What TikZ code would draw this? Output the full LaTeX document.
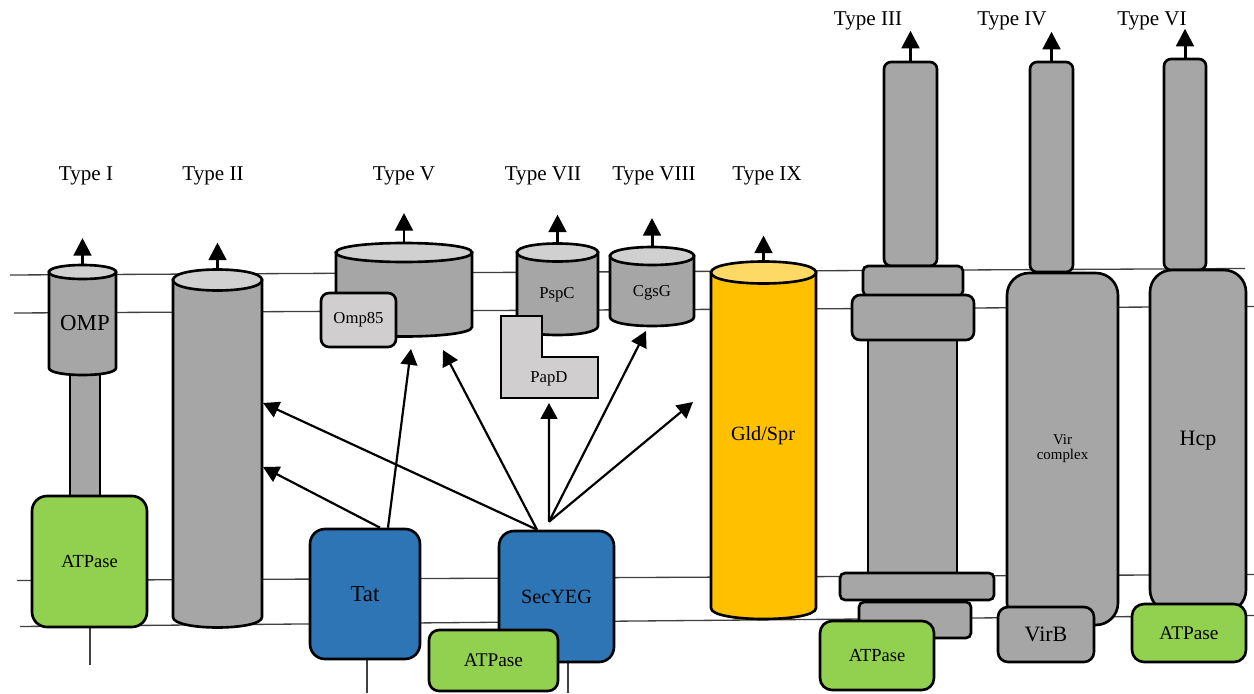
\documentclass[tikz,border=0pt]{standalone}
\usepackage{fontspec}
\setmainfont{Liberation Serif}
\usetikzlibrary{arrows.meta,positioning}

\definecolor{protgray}{HTML}{A6A6A6}
\definecolor{capgray}{HTML}{D0D0D0}
\definecolor{ompgray}{HTML}{D0CECE}
\definecolor{atpgreen}{HTML}{92D050}
\definecolor{secblue}{HTML}{2E75B6}
\definecolor{gldyellow}{HTML}{FFC000}
\definecolor{gldtop}{HTML}{FFD966}

\newcommand{\fsz}[1]{\fontsize{#1}{#1}\selectfont}
\newcommand{\tube}[8]{%
  \filldraw[fill=#6,line width=1.5pt] (#1,#3) -- (#1,#4) .. controls (#1,{#4+1.333*#5}) and (#2,{#4+1.333*#5}) .. (#2,#4) -- (#2,#3) -- cycle;
  \filldraw[fill=#7,line width=1.5pt] (#1,#3) .. controls (#1,{#3-1.333*#5}) and (#2,{#3-1.333*#5}) .. (#2,#3) .. controls (#2,{#3+1.333*#5}) and (#1,{#3+1.333*#5}) .. (#1,#3) -- cycle;
  \coordinate (#8) at ({(#1+#2)/2},{#3-#5});
}

\begin{document}
\begin{tikzpicture}[x=0.02cm,y=-0.02cm,
  box/.style={draw,line width=1.5pt,rounded corners=0.3cm,align=center,inner sep=0pt},
  memline/.style={line width=0.75pt,black!75},
  up/.style={line width=1.7pt,-{Triangle[width=10pt,length=10pt]}},
  feed/.style={line width=1.25pt,-{Triangle[width=9.5pt,length=9pt]}},
  lbl/.style={font=\fsz{12}}]
\useasboundingbox (0,0) rectangle (1254,693);

\draw[memline] (10,275) -- (1245,268.5);
\draw[memline] (14,313) -- (1254,306.5);
\draw[memline] (17,580.5) -- (1254,574.5);
\draw[memline] (20,626.5) -- (1254,615.5);

\draw[memline] (90,627) -- (90,665);
\draw[memline] (367,657) -- (367,693);
\draw[memline] (568,657) -- (568,693);

\node[lbl] (lab1) at (86,176) {Type I};
\node[lbl] (lab2) at (213,176) {Type II};
\node[lbl] (lab5) at (404,176) {Type V};
\node[lbl] (lab7) at (543,176) {Type VII};
\node[lbl] (lab8) at (654,176) {Type VIII};
\node[lbl] (lab9) at (767,176) {Type IX};
\node[lbl] (lab3) at (868,21) {Type III};
\node[lbl] (lab4) at (1012,21) {Type IV};
\node[lbl] (lab6) at (1152,21) {Type VI};

\filldraw[fill=protgray,line width=1.5pt] (70,370) rectangle (100,497);
\tube{49}{116}{272}{368}{7}{protgray}{capgray}{omp}
\node[font=\fsz{13}] (omptxt) at (85,323) {OMP};
\node[box,fill=atpgreen,minimum width=2.3cm,minimum height=2.62cm,font=\fsz{10.5}] (atp1) at (89.5,561.5) {ATPase};

\tube{173}{262}{280}{617}{10.5}{protgray}{capgray}{gsp}
\coordinate (gspa) at (263,403);
\coordinate (gspb) at (263,467);

\tube{336}{472}{252.5}{327}{9.5}{protgray}{capgray}{usher}
\node[box,fill=ompgray,rounded corners=0.16cm,minimum width=1.5cm,minimum height=1.08cm,font=\fsz{9.5}] (omp85) at (358.5,320) {Omp85};
\coordinate (usha) at (411,349);
\coordinate (ushb) at (443,350);

\tube{517}{598}{252.5}{326}{9}{protgray}{capgray}{pspc}
\node[font=\fsz{9.5}] (pspctxt) at (557,295) {PspC};
\filldraw[fill=ompgray,line width=1.5pt] (501,316) -- (542,316) -- (542,357) -- (598,357) -- (598,398) -- (501,398) -- cycle;
\node[font=\fsz{9.5}] (papd) at (549,379) {PapD};
\coordinate (papdb) at (549,403);

\tube{610}{694}{256}{317}{9}{protgray}{capgray}{cgsg}
\node[font=\fsz{9.5}] (cgsgtxt) at (652,293) {CgsG};
\coordinate (cgsgb) at (646,331);
\coordinate (gldl) at (693,402);

\tube{711}{816}{272.5}{608}{11}{gldyellow}{gldtop}{gld}
\node[font=\fsz{11.5}] (gldtxt) at (763,436) {Gld/Spr};

\node[box,fill=protgray,rounded corners=0.14cm,minimum width=1.06cm,minimum height=4.08cm] (rod3) at (910.5,164) {};
\node[box,fill=protgray,rounded corners=0,minimum width=1.78cm,minimum height=4.66cm] (shaft3) at (912.5,456.5) {};
\node[box,fill=protgray,rounded corners=0.1cm,minimum width=2.0cm,minimum height=0.6cm] (ring1) at (913,281) {};
\node[box,fill=protgray,rounded corners=0.16cm,minimum width=2.44cm,minimum height=0.9cm] (ring2) at (913,317.5) {};
\node[box,fill=protgray,rounded corners=0.1cm,minimum width=2.24cm,minimum height=0.72cm] (ring4) at (915,620) {};
\node[box,fill=protgray,rounded corners=0.1cm,minimum width=3.08cm,minimum height=0.54cm] (ring3) at (917,586.5) {};
\node[box,fill=atpgreen,rounded corners=0.24cm,minimum width=2.28cm,minimum height=1.38cm,font=\fsz{10.5}] (atp3) at (877,655.5) {ATPase};

\node[box,fill=protgray,rounded corners=0.14cm,minimum width=0.86cm,minimum height=4.2cm] (rod4) at (1051.5,167) {};
\node[box,fill=protgray,rounded corners=0.44cm,minimum width=2.22cm,minimum height=7.04cm,font=\fsz{8.5}] (vir) at (1062.5,449) {Vir\\complex};
\node[box,fill=protgray,rounded corners=0.2cm,minimum width=1.92cm,minimum height=1.1cm,font=\fsz{12.5}] (virb) at (1046,634.5) {VirB};

\node[box,fill=protgray,rounded corners=0.14cm,minimum width=0.84cm,minimum height=4.22cm] (rod6) at (1185,164.5) {};
\node[box,fill=protgray,rounded corners=0.44cm,minimum width=1.92cm,minimum height=6.84cm,font=\fsz{12.5}] (hcp) at (1198,441) {Hcp};
\node[box,fill=atpgreen,rounded corners=0.24cm,minimum width=2.28cm,minimum height=1.16cm,font=\fsz{11}] (atp6) at (1189,633) {ATPase};

\node[box,fill=secblue,minimum width=2.2cm,minimum height=2.6cm,font=\fsz{13}] (tat) at (365,594) {Tat};
\node[box,fill=secblue,minimum width=2.3cm,minimum height=2.62cm,font=\fsz{11.5}] (sec) at (556.5,596.5) {SecYEG};
\node[box,fill=atpgreen,rounded corners=0.2cm,minimum width=2.58cm,minimum height=1.22cm,font=\fsz{11}] (atp2) at (493.5,660.5) {ATPase};

\coordinate[above=0.54cm of omp] (ompout);
\coordinate[above=0.54cm of gsp] (gspout);
\coordinate[above=0.6cm of usher] (ushout);
\coordinate[above=0.58cm of pspc] (pspcout);
\coordinate[above=0.58cm of cgsg] (cgsgout);
\coordinate[above=0.52cm of gld] (gldout);
\coordinate[above=0.6cm of rod3.north] (rod3out);
\coordinate[above=0.58cm of rod4.north] (rod4out);
\coordinate[above=0.58cm of rod6.north] (rod6out);

\draw[up] (omp) -- (ompout);
\draw[up] (gsp) -- (gspout);
\draw[up] (usher) -- (ushout);
\draw[up] (pspc) -- (pspcout);
\draw[up] (cgsg) -- (cgsgout);
\draw[up] (gld) -- (gldout);
\draw[up] (rod3.north) -- (rod3out);
\draw[up] (rod4.north) -- (rod4out);
\draw[up] (rod6.north) -- (rod6out);

\draw[feed] ([xshift=0.3cm]tat.north) -- (gspb);
\draw[feed] ([xshift=0.46cm]tat.north) -- (usha);
\draw[feed] ([xshift=-0.39cm]sec.north) -- (gspa);
\draw[feed] ([xshift=-0.39cm]sec.north) -- (ushb);
\draw[feed] ([xshift=-0.15cm,yshift=0.16cm]sec.north) -- (papdb);
\draw[feed] ([xshift=-0.15cm,yshift=0.16cm]sec.north) -- (cgsgb);
\draw[feed] ([xshift=-0.15cm,yshift=0.16cm]sec.north) -- (gldl);

\end{tikzpicture}
\end{document}
